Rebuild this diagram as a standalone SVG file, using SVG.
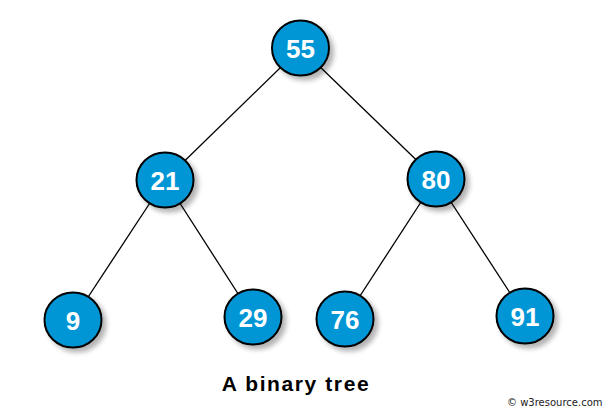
<svg xmlns="http://www.w3.org/2000/svg" width="608" height="411" viewBox="0 0 608 411">
<style>
.node ellipse { fill: #0096d6; stroke: #000; stroke-width: 2; filter: url(#sh); }
.node text { fill: #fff; font-family: "Liberation Sans", Arial, sans-serif; font-weight: bold; font-size: 26px; text-anchor: middle; }
.edges line { stroke: #000; stroke-width: 1.3; }
.title { font-family: "Liberation Sans", Arial, sans-serif; font-weight: bold; font-size: 21px; letter-spacing: 1.6px; fill: #000; text-anchor: middle; }
.wm { font-family: "DejaVu Sans", Verdana, sans-serif; font-size: 10px; fill: #222; }
</style>
<defs>
<filter id="sh" x="-30%" y="-30%" width="170%" height="170%">
<feGaussianBlur in="SourceAlpha" stdDeviation="2.5"/>
<feOffset dx="4" dy="4" result="b"/>
<feComponentTransfer><feFuncA type="linear" slope="0.3"/></feComponentTransfer>
<feMerge><feMergeNode/><feMergeNode in="SourceGraphic"/></feMerge>
</filter>
</defs>
<rect width="608" height="411" fill="#fff"/>
<g id="edges" class="edges">
<line x1="300.5" y1="48" x2="165" y2="180"/>
<line x1="300.5" y1="48" x2="436" y2="179"/>
<line x1="165" y1="180" x2="73" y2="320"/>
<line x1="165" y1="180" x2="253" y2="317"/>
<line x1="436" y1="179" x2="345" y2="319"/>
<line x1="436" y1="179" x2="525" y2="316"/>
</g>
<g id="n55" class="node"><ellipse cx="300.5" cy="48" rx="28.5" ry="27.5"/><text x="300.5" y="57.5">55</text></g>
<g id="n21" class="node"><ellipse cx="165" cy="180" rx="28.5" ry="27.5"/><text x="165" y="189.5">21</text></g>
<g id="n80" class="node"><ellipse cx="436" cy="179" rx="28.5" ry="27.5"/><text x="436" y="188.5">80</text></g>
<g id="n9" class="node"><ellipse cx="73" cy="320" rx="28.5" ry="27.5"/><text x="73" y="329.5">9</text></g>
<g id="n29" class="node"><ellipse cx="253" cy="317" rx="28.5" ry="27.5"/><text x="253" y="326.5">29</text></g>
<g id="n76" class="node"><ellipse cx="345" cy="319" rx="28.5" ry="27.5"/><text x="345" y="328.5">76</text></g>
<g id="n91" class="node"><ellipse cx="525" cy="316" rx="28.5" ry="27.5"/><text x="525" y="325.5">91</text></g>
<text class="title" x="296" y="391">A binary tree</text>
<text class="wm" x="507" y="406">© w3resource.com</text>
</svg>
